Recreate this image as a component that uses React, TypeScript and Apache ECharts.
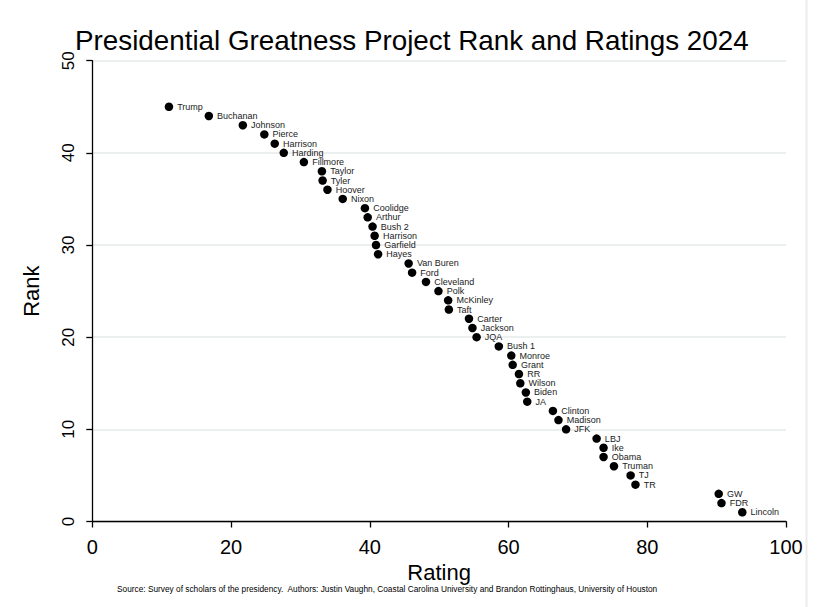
import React, { useEffect, useRef } from "react";
import * as echarts from "echarts";

const names = [
  "Trump", "Buchanan", "Johnson", "Pierce", "Harrison", "Harding", "Fillmore", "Taylor", "Tyler", "Hoover",
  "Nixon", "Coolidge", "Arthur", "Bush 2", "Harrison", "Garfield", "Hayes", "Van Buren", "Ford", "Cleveland",
  "Polk", "McKinley", "Taft", "Carter", "Jackson", "JQA", "Bush 1", "Monroe", "Grant", "RR",
  "Wilson", "Biden", "JA", "Clinton", "Madison", "JFK", "LBJ", "Ike", "Obama", "Truman",
  "TJ", "TR", "GW", "FDR", "Lincoln",
];
const ranks = [
  45, 44, 43, 42, 41, 40, 39, 38, 37, 36,
  35, 34, 33, 32, 31, 30, 29, 28, 27, 26,
  25, 24, 23, 22, 21, 20, 19, 18, 17, 16,
  15, 14, 13, 12, 11, 10, 9, 8, 7, 6,
  5, 4, 3, 2, 1,
];
const ratings = [
  11.05, 16.8, 21.7, 24.8, 26.3, 27.6, 30.5, 33.1, 33.2, 33.9,
  36.1, 39.3, 39.7, 40.4, 40.7, 40.9, 41.2, 45.6, 46.1, 48.1,
  49.9, 51.3, 51.4, 54.3, 54.8, 55.4, 58.6, 60.4, 60.6, 61.5,
  61.7, 62.5, 62.7, 66.4, 67.2, 68.3, 72.7, 73.7, 73.7, 75.2,
  77.6, 78.3, 90.3, 90.7, 93.7,
];
const xTicks = [0, 20, 40, 60, 80, 100];
const yTicks = [0, 10, 20, 30, 40, 50];

const titleText = "Presidential Greatness Project Rank and Ratings 2024";
const sourceText =
  "Source: Survey of scholars of the presidency.  Authors: Justin Vaughn, Coastal Carolina University and Brandon Rottinghaus, University of Houston";

const FONT = "'Liberation Sans', Arial, sans-serif";

export default function App() {
  const ref = useRef<HTMLDivElement>(null);
  useEffect(() => {
    document.body.style.margin = "0";
    if (!ref.current) return;
    const chart = echarts.init(ref.current, undefined, { renderer: "svg" });
    const data = ratings.map((r, i) => ({ value: [r, ranks[i]], name: names[i] }));
    chart.setOption({
      animation: false,
      backgroundColor: "#ffffff",
      title: {
        text: titleText,
        left: 75,
        top: 26,
        padding: 0,
        textStyle: { fontFamily: FONT, fontSize: 27.8, fontWeight: "normal", color: "#000" },
      },
      grid: { left: 92.3, right: 33, top: 60.7, bottom: 85.5, containLabel: false },
      xAxis: {
        type: "value",
        min: xTicks[0],
        max: xTicks[xTicks.length - 1],
        interval: 20,
        name: "Rating",
        nameLocation: "middle",
        nameGap: 31,
        nameTextStyle: { fontFamily: FONT, fontSize: 22, color: "#000" },
        axisLine: { show: true, onZero: false, lineStyle: { color: "#000", width: 1.3 } },
        axisTick: { show: true, length: 6, lineStyle: { color: "#000", width: 1.3 } },
        axisLabel: { fontFamily: FONT, fontSize: 20, color: "#000", margin: 15 },
        splitLine: { show: false },
      },
      yAxis: {
        type: "value",
        min: yTicks[0],
        max: yTicks[yTicks.length - 1],
        interval: 10,
        name: "Rank",
        nameLocation: "middle",
        nameGap: 50,
        nameTextStyle: { fontFamily: FONT, fontSize: 22, color: "#000" },
        axisLine: { show: true, onZero: false, lineStyle: { color: "#000", width: 1.3 } },
        axisTick: { show: true, length: 6, lineStyle: { color: "#000", width: 1.3 } },
        axisLabel: { fontFamily: FONT, fontSize: 17, color: "#000", rotate: 90, margin: 15 },
        splitLine: { show: true, lineStyle: { color: "#e6eaea", width: 1.5 } },
      },
      series: [
        {
          type: "scatter",
          data,
          symbol: "circle",
          symbolSize: 8.5,
          itemStyle: { color: "#000", opacity: 1 },
          label: {
            show: true,
            position: "right",
            distance: 4,
            formatter: (p: any) => p.name,
            fontFamily: FONT,
            fontSize: 9,
            color: "#222",
          },
          emphasis: { disabled: true },
        },
      ],
      graphic: [
        {
          type: "line",
          shape: { x1: 806.5, y1: 0, x2: 806.5, y2: 607 },
          style: { stroke: "#ececec", lineWidth: 2 },
          silent: true,
        },
        {
          type: "text",
          left: 117,
          top: 585,
          style: { text: sourceText, fontFamily: FONT, fontSize: 8.3, fill: "#000" },
        },
      ],
    });
    return () => chart.dispose();
  }, []);
  return <div ref={ref} style={{ width: 819, height: 607 }} />;
}
